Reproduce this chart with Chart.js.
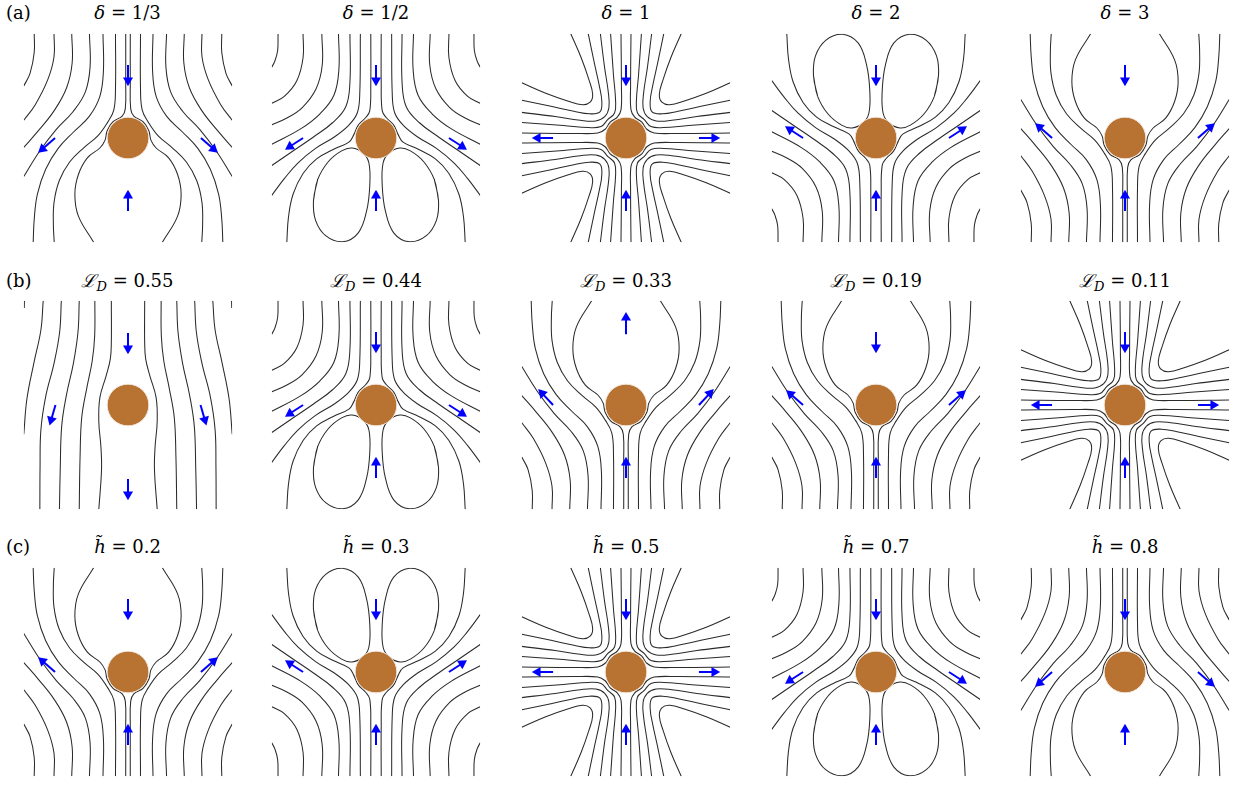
<!DOCTYPE html>
<html><head><meta charset="utf-8">
<script src="https://cdn.jsdelivr.net/npm/chart.js@4.4.1/dist/chart.umd.min.js"></script>
<style>
html,body{margin:0;padding:0;background:#fff;width:1239px;height:786px;overflow:hidden;position:relative;}
canvas.pc{position:absolute;}
.tt{position:absolute;font-family:"DejaVu Serif",serif;font-size:18px;color:#000;white-space:nowrap;transform:translateX(-50%);line-height:1;}
.tt i{font-style:italic;}
.tt sub{font-size:13px;vertical-align:-4px;line-height:0;}
.lab{position:absolute;font-family:"DejaVu Serif",serif;font-size:18px;line-height:1;color:#000;}
</style></head><body>
<script>
// ---------------- data (units: particle radius = 1, panel spans -5..5) ----------------
const ROW_LETTERS = ['(a)', '(b)', '(c)'];
const DELTA_LABELS = ['1/3', '1/2', '1', '2', '3'];
const LD_LABELS = ['0.55', '0.44', '0.33', '0.19', '0.11'];
const H_LABELS = ['0.2', '0.3', '0.5', '0.7', '0.8'];

// template used by each panel and whether it is flipped top-to-bottom
const PANEL_TEMPLATE = [
  ['BULB', 'LOOPS', 'HYP', 'LOOPS', 'BULB'],
  ['UNIF', 'LOOPS', 'BULB', 'BULB', 'HYP'],
  ['BULB', 'LOOPS', 'HYP', 'LOOPS', 'BULB']
];
const PANEL_FLIP = [
  [1, 1, 0, 0, 0],
  [0, 1, 0, 0, 0],
  [0, 0, 0, 1, 1]
];
const PANEL_ARROWS = [
  ['BULB', 'LOOPS', 'HYP', 'LOOPS', 'BULB'],
  ['UNIF', 'LOOPS', 'BULB_UP', 'BULB', 'HYP'],
  ['BULB', 'LOOPS', 'HYP', 'LOOPS', 'BULB']
];

// right-half streamlines, bulb above the particle (delta = 3)
const BULB_LINES = [
  [[0.11,-5],[0.11,-2.6],[0.13,-1.4],[0.28,-1.05],[0.72,-0.78],[1.0,-0.35],[1.1,0.1],[1.35,0.48],[1.95,0.95],[2.38,1.75],[2.55,2.7],[2.38,3.75],[1.65,5]],
  [[0.6,-5],[0.6,-2.4],[0.68,-1.35],[0.98,-0.75],[1.45,-0.1],[2.1,0.45],[2.8,1.15],[3.3,2.05],[3.55,3.1],[3.58,4.2],[3.54,5]],
  [[1.2,-5],[1.18,-3.2],[1.35,-2.0],[1.85,-1.05],[2.6,-0.3],[3.35,0.5],[3.95,1.5],[4.35,2.7],[4.5,3.9],[4.55,5]],
  [[1.85,-5],[1.82,-3.4],[2.05,-2.2],[2.65,-1.25],[3.45,-0.4],[4.25,0.65],[5,1.85]],
  [[2.7,-5],[2.68,-3.6],[2.95,-2.4],[3.55,-1.3],[4.3,-0.35],[5,0.45]],
  [[3.55,-5],[3.55,-3.9],[3.85,-2.8],[4.45,-1.6],[5,-0.85]],
  [[4.5,-5],[4.5,-4.1],[4.7,-3.1],[5,-2.5]]
];

// right-half streamlines, closed loops above the particle (delta = 2)
const LOOPS_LINES = [
  [[0.25,-5],[0.25,-2.6],[0.3,-1.3],[0.5,-0.97],[0.85,-0.62],[1.07,-0.15],[1.3,0.2],[2.05,0.55],[2.85,1.0],[3.5,1.7],[3.98,2.7],[4.2,3.8],[4.28,5]],
  [[0.75,-5],[0.78,-2.1],[0.9,-1.2],[1.3,-0.62],[2.0,-0.05],[2.9,0.5],[3.75,1.2],[4.4,1.95],[5,2.75]],
  [[1.25,-5],[1.25,-2.7],[1.45,-1.5],[2.1,-0.72],[3.0,-0.05],[3.95,0.6],[5,1.32]],
  [[1.8,-5],[1.78,-3.3],[2.02,-2.05],[2.7,-1.15],[3.6,-0.45],[5,0.3]],
  [[2.6,-5],[2.58,-3.5],[2.88,-2.35],[3.55,-1.45],[4.3,-0.95],[5,-0.64]],
  [[3.5,-5],[3.5,-3.85],[3.8,-2.75],[4.4,-2.0],[5,-1.67]],
  [[4.7,-5],[4.72,-4.2],[4.85,-3.7],[5,-3.4]],
  // closed loop (start repeated for a smooth join)
  [[3.0,3.0],[2.8,2.0],[2.3,1.15],[1.65,0.62],[1.15,0.48],[0.62,0.72],[0.34,1.2],[0.3,2.3],[0.45,3.5],[0.85,4.55],[1.6,4.98],[2.4,4.7],[2.9,3.95],[3.0,3.0],[2.8,2.0]]
];

// one quadrant of the hyperbolic pattern (delta = 1), from top edge to right edge
const HYP_LINES = [
  [[0.24,5],[0.22,2.5],[0.24,1.35],[0.42,1.0],[0.76,0.76],[1.0,0.42],[1.35,0.24],[2.5,0.22],[5,0.24]],
  [[0.74,5],[0.6,3.0],[0.5,1.8],[0.55,1.2],[0.88,0.88],[1.2,0.55],[1.8,0.5],[3.0,0.6],[5,0.74]],
  [[1.23,5],[1.03,3.4],[0.85,2.2],[0.82,1.45],[1.02,1.02],[1.45,0.82],[2.2,0.85],[3.4,1.03],[5,1.23]],
  [[1.81,5],[1.52,3.6],[1.28,2.5],[1.16,1.75],[1.25,1.25],[1.75,1.16],[2.5,1.28],[3.6,1.52],[5,1.81]],
  [[2.65,5],[2.15,3.85],[1.78,2.8],[1.6,2.1],[1.72,1.72],[2.1,1.6],[2.8,1.78],[3.85,2.15],[5,2.65]]
];

// right-half streamlines for L_D = 0.55
const UNIF_LINES = [
  [[0.8,5],[0.8,3.0],[0.85,2.2],[1.05,1.4],[1.35,0.35],[1.4,-0.8],[1.3,-2.0],[1.27,-3.1],[1.4,-5]],
  [[1.59,5],[1.6,3.3],[1.72,2.1],[1.98,0.8],[2.22,-0.6],[2.3,-2.5],[2.34,-5]],
  [[2.34,5],[2.4,3.5],[2.62,2.0],[2.95,0.5],[3.18,-1.0],[3.25,-3.0],[3.29,-5]],
  [[3.2,5],[3.28,3.5],[3.55,2.0],[3.95,0.4],[4.18,-1.2],[4.22,-3.0],[4.23,-5]],
  [[4.07,5],[4.18,3.6],[4.52,2.0],[4.85,0.3],[5,-1.4]],
  [[4.97,5],[4.98,4.65]]
];

// arrows: [tailX, tailY, tipX, tipY]
const ARROWS = {
  BULB:    [[0,3.5,0,2.5],[0,-3.5,0,-2.5],[3.5,0,4.3,0.7],[-3.5,0,-4.3,0.7]],
  BULB_UP: [[0,3.4,0,4.45],[0,-3.5,0,-2.5],[3.5,0,4.2,0.75],[-3.5,0,-4.2,0.75]],
  LOOPS:   [[0,3.5,0,2.5],[0,-3.5,0,-2.5],[3.5,0,4.35,0.55],[-3.5,0,-4.35,0.55]],
  HYP:     [[0,3.5,0,2.5],[0,-3.5,0,-2.5],[3.5,0,4.5,0],[-3.5,0,-4.5,0]],
  UNIF:    [[0,3.45,0,2.45],[0,-3.55,0,-4.55],[3.48,0,3.76,-0.97],[-3.48,0,-3.76,-0.97]]
};

const PARTICLE_RADIUS = 1;

// ---------------- layout ----------------
const COL_CX = [127.5, 376, 626, 876, 1125];
const ROW_CY = [138, 405, 672];
const HALF = 106;   // half panel size in px
const PAD = 4;
const TITLE_BASE = [21, 289, 555];

const LINE_COLOR = '#2b2b2b';
const PARTICLE_COLOR = '#B87333';
const ARROW_COLOR = '#0000ff';

const TEMPLATES = { BULB: BULB_LINES, LOOPS: LOOPS_LINES, UNIF: UNIF_LINES };

function pts(line, sx, sy) { return line.map(p => ({ x: p[0] * sx, y: p[1] * sy })); }

function buildDatasets(tpl, flip, arrows) {
  const fy = flip ? -1 : 1;
  const ds = [];
  const addLine = (data) => ds.push({ data, showLine: true, pointRadius: 0, borderColor: LINE_COLOR,
    borderWidth: 1.05, tension: 0.4, fill: false, order: 2 });
  if (tpl === 'HYP') {
    for (const l of HYP_LINES) for (const sx of [1, -1]) for (const sy of [1, -1]) addLine(pts(l, sx, sy));
  } else {
    for (const l of TEMPLATES[tpl]) for (const sx of [1, -1]) addLine(pts(l, sx, fy));
  }
  ds.push({
    data: [{ x: 0, y: 0 }], showLine: false,
    pointRadius: (c) => { const s = c.chart.scales.x; return Math.abs(s.getPixelForValue(PARTICLE_RADIUS) - s.getPixelForValue(0)); },
    backgroundColor: PARTICLE_COLOR, borderColor: '#efe6dc', borderWidth: 1, order: -1
  });
  for (const a of arrows) {
    const tx = a[0], ty = a[1] * fy, hx = a[2], hy = a[3] * fy;
    const dx = hx - tx, dy = hy - ty, L = Math.hypot(dx, dy);
    const ux = dx / L, uy = dy / L, back = 0.26;
    const cxh = hx - ux * back, cyh = hy - uy * back;
    ds.push({ data: [{ x: tx, y: ty }, { x: cxh, y: cyh }], showLine: true, pointRadius: 0,
      borderColor: ARROW_COLOR, borderWidth: 2, tension: 0, order: -2 });
    ds.push({ data: [{ x: cxh, y: cyh }], showLine: false, pointStyle: 'triangle', pointRadius: 5.8,
      rotation: Math.atan2(dx, dy) * 180 / Math.PI, backgroundColor: ARROW_COLOR, borderWidth: 0, order: -3 });
  }
  return ds;
}

function titleHTML(r, c) {
  if (r === 0) return '<i>δ</i> = ' + DELTA_LABELS[c];
  if (r === 1) return '<i>ℒ</i><sub><i>D</i></sub> = ' + LD_LABELS[c];
  return '<i>h̃</i> = ' + H_LABELS[c];
}

for (let r = 0; r < 3; r++) {
  const lab = document.createElement('div');
  lab.className = 'lab'; lab.textContent = ROW_LETTERS[r];
  lab.style.left = '6px'; lab.style.top = (TITLE_BASE[r] - 17) + 'px';
  document.body.appendChild(lab);
  for (let c = 0; c < 5; c++) {
    const cx = COL_CX[c], cy = ROW_CY[r];
    const t = document.createElement('div');
    t.className = 'tt'; t.innerHTML = titleHTML(r, c);
    t.style.left = cx + 'px'; t.style.top = (TITLE_BASE[r] - 17) + 'px';
    document.body.appendChild(t);

    const cv = document.createElement('canvas');
    cv.className = 'pc';
    const size = 2 * HALF + 2 * PAD;
    cv.width = size; cv.height = size;
    cv.style.width = size + 'px'; cv.style.height = size + 'px';
    cv.style.left = (cx - HALF - PAD) + 'px'; cv.style.top = (cy - HALF - PAD) + 'px';
    document.body.appendChild(cv);
    new Chart(cv, {
      type: 'scatter',
      data: { datasets: buildDatasets(PANEL_TEMPLATE[r][c], PANEL_FLIP[r][c], ARROWS[PANEL_ARROWS[r][c]]) },
      options: {
        responsive: false, animation: false, events: [], devicePixelRatio: 1,
        layout: { padding: PAD },
        plugins: { legend: { display: false }, tooltip: { enabled: false }, title: { display: false } },
        scales: {
          x: { type: 'linear', min: -5, max: 5, display: false },
          y: { type: 'linear', min: -5, max: 5, display: false }
        }
      }
    });
  }
}
</script>
</body></html>
